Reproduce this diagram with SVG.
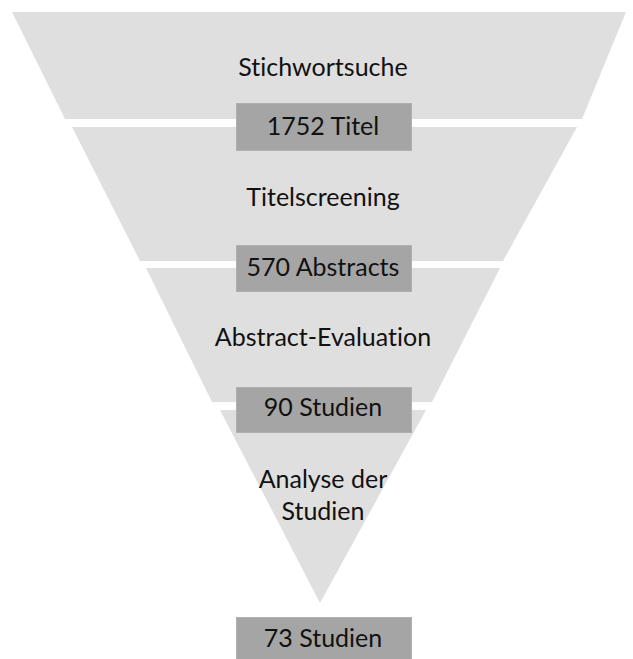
<svg xmlns="http://www.w3.org/2000/svg" width="633" height="659" viewBox="0 0 633 659">
<style>
.band{fill:#dfdfdf}
.box{fill:#a5a5a5;stroke:#b0b0b0;stroke-width:1}
.t{font-family:Lato,"Open Sans","Liberation Sans",sans-serif;font-size:25px;fill:#111111;text-anchor:middle;font-variant-ligatures:none;font-feature-settings:"liga" 0}
</style>
<rect width="633" height="659" fill="#ffffff"/>
<g id="stage1">
<polygon class="band" points="12,12 626,12 582,119 65,119"/>
<text class="t" x="323" y="76">Stichwortsuche</text>
</g>
<g id="stage2">
<polygon class="band" points="72,127 577,127 503,261 140,261"/>
<text class="t" x="323" y="206">Titelscreening</text>
</g>
<g id="stage3">
<polygon class="band" points="146,268 500,268 432,402 212,402"/>
<text class="t" x="323" y="346">Abstract-Evaluation</text>
</g>
<g id="stage4">
<polygon class="band" points="220,410 426,410 320,603"/>
<text class="t" x="323" y="488">Analyse der</text>
<text class="t" x="323" y="520">Studien</text>
</g>
<g id="connectors"></g>
<g id="count1">
<rect class="box" x="236.5" y="103.5" width="175" height="47"/>
<text class="t" x="323" y="135">1752 Titel</text>
</g>
<g id="count2">
<rect class="box" x="236.5" y="245.5" width="175" height="46"/>
<text class="t" x="323" y="276">570 Abstracts</text>
</g>
<g id="count3">
<rect class="box" x="236.5" y="387.5" width="175" height="45"/>
<text class="t" x="323" y="416">90 Studien</text>
</g>
<g id="count4">
<rect class="box" x="236.5" y="617.5" width="175" height="48"/>
<text class="t" x="323" y="647">73 Studien</text>
</g>
</svg>
